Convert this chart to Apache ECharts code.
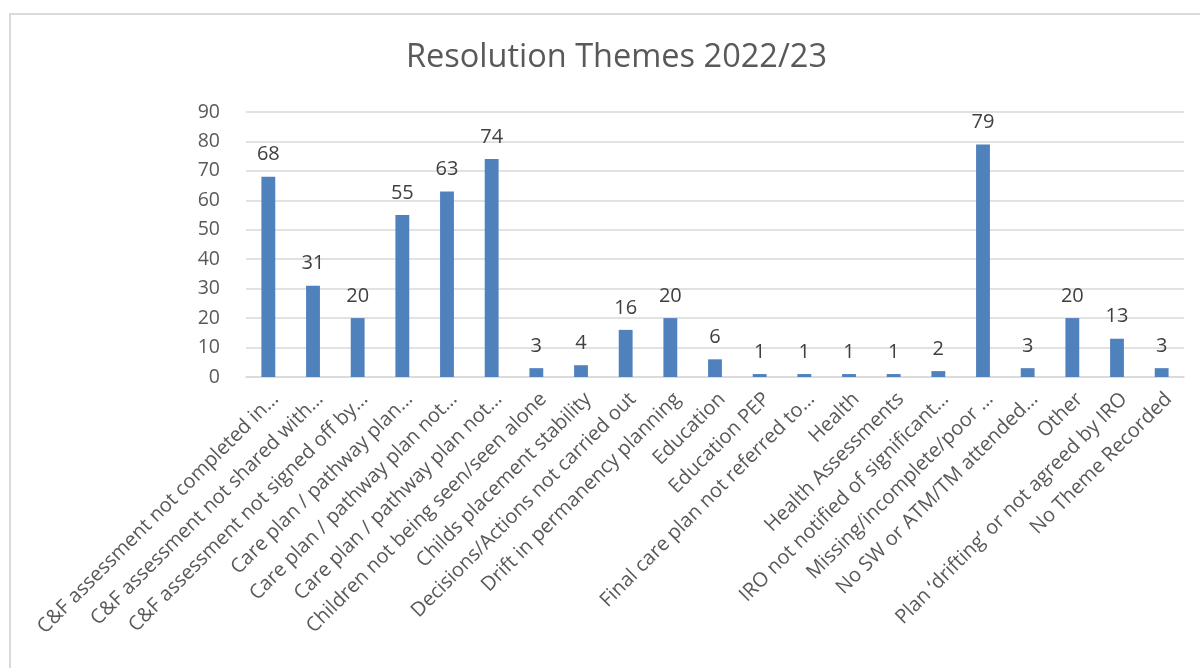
<!DOCTYPE html>
<html>
<head>
<meta charset="utf-8">
<script src="https://cdn.jsdelivr.net/npm/echarts@6/dist/echarts.min.js"></script>
<style>
  html, body { margin: 0; padding: 0; background: #ffffff; }
  #chart { width: 1200px; height: 668px; }
</style>
</head>
<body>
<div id="chart"></div>
<script>
const title = 'Resolution Themes 2022/23';
const categories = [
  'C&F assessment not completed in…',
  'C&F assessment not shared with…',
  'C&F assessment not signed off by…',
  'Care plan / pathway plan…',
  'Care plan / pathway plan not…',
  'Care plan / pathway plan not…',
  'Children not being seen/seen alone',
  'Childs placement stability',
  'Decisions/Actions not carried out',
  'Drift in permanency planning',
  'Education',
  'Education PEP',
  'Final care plan not referred to…',
  'Health',
  'Health Assessments',
  'IRO not notified of significant…',
  'Missing/incomplete/poor …',
  'No SW or ATM/TM attended…',
  'Other',
  'Plan ‘drifting’ or not agreed by IRO',
  'No Theme Recorded'
];
const values = [68, 31, 20, 55, 63, 74, 3, 4, 16, 20, 6, 1, 1, 1, 1, 2, 79, 3, 20, 13, 3];
const yMin = 0, yMax = 90, yStep = 10;

const chart = echarts.init(document.getElementById('chart'), null, { renderer: 'canvas' });
const FONT = '"Open Sans", Lato, sans-serif';
chart.setOption({
  backgroundColor: '#ffffff',
  animation: false,
  graphic: [{
    type: 'rect',
    shape: { x: 10, y: 14, width: 1250, height: 700 },
    style: { fill: 'none', stroke: '#d9d9d9', lineWidth: 2 },
    silent: true, z: -1
  }],
  title: {
    text: title,
    left: 401,
    top: 36,
    textStyle: { fontFamily: FONT, fontSize: 32.5, fontWeight: 'normal', color: '#595959' }
  },
  grid: { left: 246, right: 16, top: 112, bottom: 291, containLabel: false },
  xAxis: {
    type: 'category',
    data: categories,
    axisLine: { show: true, lineStyle: { color: '#d9d9d9', width: 1.5 } },
    axisTick: { show: false },
    axisLabel: {
      interval: 0,
      rotate: 45,
      margin: 12,
      verticalAlign: 'top',
      fontFamily: FONT,
      fontSize: 20,
      color: '#595959'
    }
  },
  yAxis: {
    type: 'value',
    min: yMin, max: yMax, interval: yStep,
    axisLine: { show: false },
    axisTick: { show: false },
    splitLine: { lineStyle: { color: '#d9d9d9', width: 1.5 } },
    axisLabel: { fontFamily: FONT, fontSize: 19.5, color: '#595959', margin: 26 }
  },
  series: [{
    type: 'bar',
    data: values,
    barWidth: '31%',
    itemStyle: { color: '#4f81bd' },
    label: {
      show: true,
      position: 'top',
      distance: 12,
      fontFamily: FONT,
      fontSize: 20,
      color: '#404040'
    }
  }]
});
</script>
</body>
</html>
